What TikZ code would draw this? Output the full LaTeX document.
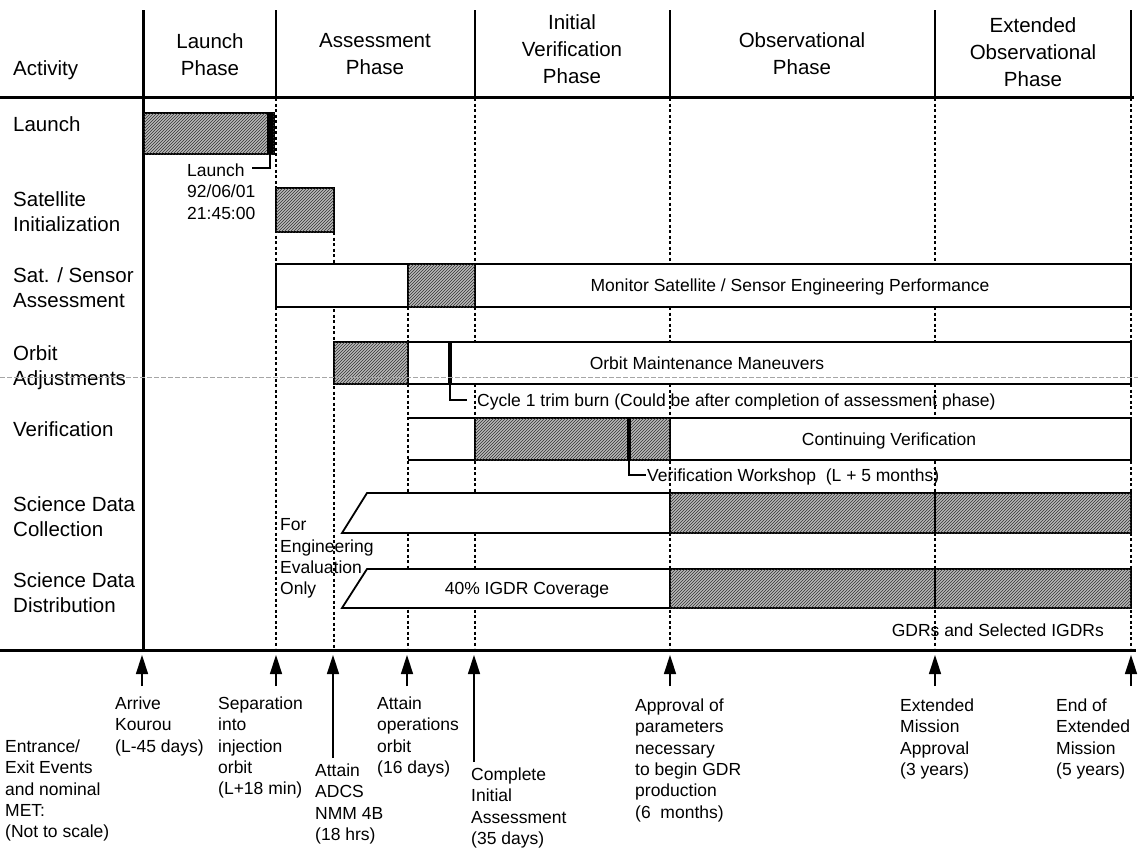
\documentclass[tikz,border=0pt]{standalone}
\usepackage{fontspec}
\setmainfont{Liberation Sans}
\usetikzlibrary{arrows.meta,patterns}
\begin{document}
\begin{tikzpicture}[x=1pt,y=-1pt,
  big/.style={font=\fontsize{20.5}{25}\selectfont, inner sep=0pt, align=left, anchor=north west},
  hdr/.style={font=\fontsize{20.5}{27}\selectfont, inner sep=0pt, align=center, anchor=north},
  small/.style={font=\fontsize{17.5}{21.3}\selectfont, inner sep=0pt, align=left, anchor=north west},
  inbar/.style={font=\fontsize{17.5}{21.3}\selectfont, inner sep=0pt, anchor=base},
  hline/.style={line width=3pt},
  phaseline/.style={line width=1.5pt},
  guide/.style={line width=1.2pt, dash pattern=on 3pt off 2.5pt},
  barline/.style={line width=1.8pt},
  bar/.style={draw, line width=1.8pt, fill=white},
  shaded/.style={draw, line width=1.8pt, fill=gray!55, postaction={pattern=north east lines, pattern color=black!80}},
  evarrow/.style={line width=1.5pt, -{Triangle[width=12pt,length=19pt]}},
  bracket/.style={line width=1.5pt},
]
\useasboundingbox (0,0) rectangle (1138,852);
\fill[white] (0,0) rectangle (1138,852);

% dashed phase guides
\foreach \x in {276,475,670,935,1131} \draw[guide] (\x,98) -- (\x,648);
\draw[guide] (334,232) -- (334,648);
\draw[guide] (408,307) -- (408,648);

% header frame
\foreach \x in {276,475,670,935,1131} \draw[phaseline] (\x,10) -- (\x,97);
\draw[line width=3pt] (143,10) -- (143,650);
\draw[hline] (0,97) -- (1134,97);
\draw[hline] (0,650) -- (1136,650);

% header texts
\node[big, anchor=base west] (activity) at (13,75) {Activity};
\node[hdr] (hlaunch) at (210,33.6) {Launch\\Phase};
\node[hdr] (hassess) at (375,33.6) {Assessment\\Phase};
\node[hdr] (hinit) at (572,14.6) {Initial\\Verification\\Phase};
\node[hdr] (hobs) at (802,32.6) {Observational\\Phase};
\node[hdr] (hext) at (1033,17.6) {Extended\\Observational\\Phase};

% row labels
\node[big] (rlaunch) at (13,116.6) {Launch};
\node[big] (rsatinit) at (13,191.6) {Satellite\\Initialization};
\node[big] (rsatsens) at (13,267.6) {Sat. / Sensor\\Assessment};
\node[big] (rorbit) at (13,345.6) {Orbit\\Adjustments};
\node[big] (rverif) at (13,421.6) {Verification};
\node[big] (rsdc) at (13,496.6) {Science Data\\Collection};
\node[big] (rsdd) at (13,572.6) {Science Data\\Distribution};

% Launch bar
\draw[shaded] (144,113) rectangle (274,154);
\fill (267,113) rectangle (273,154);
% Satellite initialization
\draw[shaded] (276,188) rectangle (334,232);
% Sat / Sensor assessment
\draw[bar] (276,264) rectangle (1131,307);
\draw[shaded] (408,264) rectangle (475,307);
% Orbit adjustments
\draw[bar] (334,342) rectangle (1131,384);
\draw[shaded] (334,342) rectangle (408,384);
\draw[line width=4pt] (450,342) -- (450,384);
% Verification
\fill[white] (409,418) rectangle (1131,460);
\draw[barline] (408,418) -- (1131,418) -- (1131,460) -- (408,460);
\draw[shaded] (475,418) rectangle (670,460);
\draw[line width=4pt] (629,418) -- (629,460);
% Science data collection
\draw[bar] (342,533) -- (367,493) -- (1131,493) -- (1131,533) -- cycle;
\draw[shaded] (670,493) rectangle (1131,533);
\draw[line width=1.2pt] (935,493) -- (935,533);
% Science data distribution
\draw[bar] (342,608) -- (367,569) -- (1131,569) -- (1131,608) -- cycle;
\draw[shaded] (670,569) rectangle (1131,608);
\draw[line width=1.2pt] (935,569) -- (935,608);

% faint scan line
\draw[black!35, line width=0.6pt, dash pattern=on 5pt off 2pt] (0,377) -- (1138,377);

% texts in and near bars
\node[small] (ltext) at (187,163.7) {Launch\\92/06/01\\21:45:00};
\coordinate (lm) at (270,154); \coordinate (lb) at (252,168);
\draw[bracket] (lm) |- (lb);
\node[inbar] (monitor) at (790,291.8) {Monitor Satellite / Sensor Engineering Performance};
\node[inbar] (orbitmm) at (707,369.3) {Orbit Maintenance Maneuvers};
\node[inbar, anchor=base west] (cycle) at (477,406.3) {Cycle 1 trim burn (Could be after completion of assessment phase)};
\coordinate (om) at (450,384); \coordinate (ob) at (467,400);
\draw[bracket] (om) |- (ob);
\node[inbar] (contver) at (889,445.3) {Continuing Verification};
\node[inbar, anchor=base west] (vws) at (647,481.3) {Verification Workshop\ \ (L + 5 months)};
\coordinate (vm) at (629,460); \coordinate (vb) at (646,475);
\draw[bracket] (vm) |- (vb);
\node[small] (engonly) at (280,518.7) {For\\Engineering\\Evaluation\\Only};
\node[inbar] (igdr) at (527,594.8) {40\% IGDR Coverage};
\node[inbar, anchor=base east] (gdrs) at (1104,636.3) {GDRs and Selected IGDRs};

% event arrows
\coordinate (a0) at (142,655); \coordinate (t0) at (142,686);
\coordinate (a1) at (276,655); \coordinate (t1) at (276,686);
\coordinate (a2) at (333,655); \coordinate (t2) at (333,758);
\coordinate (a3) at (407,655); \coordinate (t3) at (407,686);
\coordinate (a4) at (474,655); \coordinate (t4) at (474,762);
\coordinate (a5) at (670,655); \coordinate (t5) at (670,686);
\coordinate (a6) at (935,655); \coordinate (t6) at (935,686);
\coordinate (a7) at (1131,655); \coordinate (t7) at (1131,686);
\foreach \i in {0,...,7} \draw[evarrow] (t\i) -- (a\i);

% event texts
\node[small] (eentr) at (5,739.7) {Entrance/\\Exit Events\\and nominal\\MET:\\(Not to scale)};
\node[small] (earrive) at (115,696.7) {Arrive\\Kourou\\(L-45 days)};
\node[small] (esep) at (218,696.7) {Separation\\into\\injection\\orbit\\(L+18 min)};
\node[small] (eadcs) at (315,763.7) {Attain\\ADCS\\NMM 4B\\(18 hrs)};
\node[small] (eops) at (377,696.7) {Attain\\operations\\orbit\\(16 days)};
\node[small] (ecomp) at (471,767.7) {Complete\\Initial\\Assessment\\(35 days)};
\node[small] (eappr) at (635,698.7) {Approval of\\parameters\\necessary\\to begin GDR\\production\\(6\ \ months)};
\node[small] (eext) at (900,698.7) {Extended\\Mission\\Approval\\(3 years)};
\node[small] (eend) at (1056,698.7) {End of\\Extended\\Mission\\(5 years)};
\end{tikzpicture}
\end{document}
